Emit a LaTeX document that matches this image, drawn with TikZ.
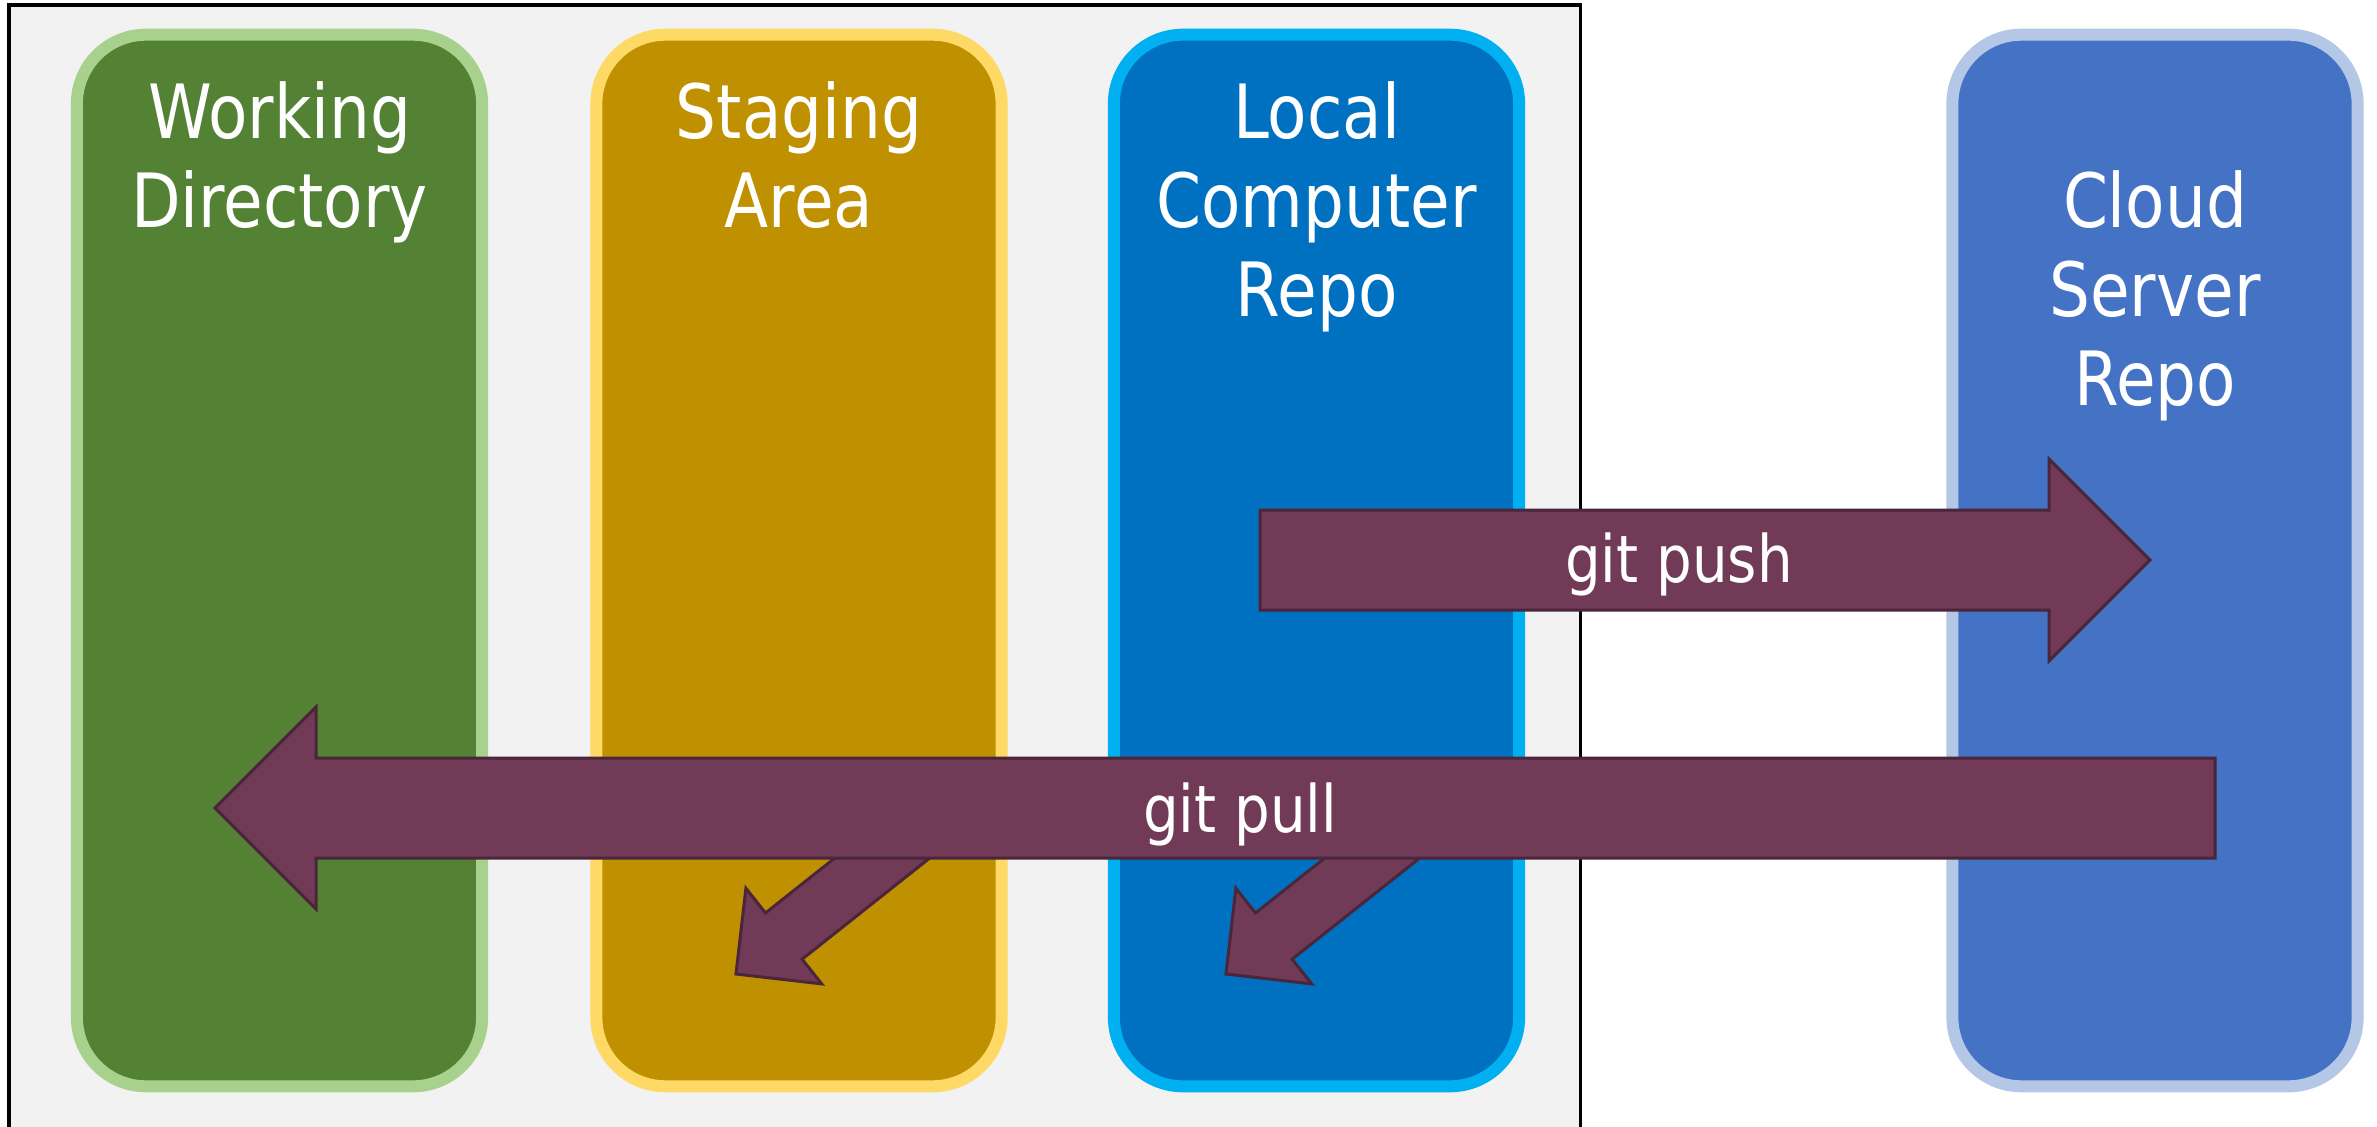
\documentclass[tikz,border=0pt]{standalone}
\usepackage{fontspec}
\setmainfont{DejaVu Sans}[FakeStretch=0.86]
\definecolor{bggray}{HTML}{F2F2F2}
\definecolor{c1b}{HTML}{A9D18E}
\definecolor{c1f}{HTML}{548235}
\definecolor{c2b}{HTML}{FFD966}
\definecolor{c2f}{HTML}{BF9000}
\definecolor{c3b}{HTML}{00B0F0}
\definecolor{c3f}{HTML}{0070C0}
\definecolor{c4b}{HTML}{B4C7E7}
\definecolor{c4f}{HTML}{4472C4}
\definecolor{arrowfill}{HTML}{713B57}
\definecolor{arrowline}{HTML}{4B2539}
\begin{document}
\begin{tikzpicture}[x=0.01cm,y=-0.01cm,
  col/.style={rectangle,rounded corners=0.69cm,line width=0.12cm,minimum width=4.05cm,minimum height=10.51cm,inner sep=0pt},
  ttl/.style={anchor=base,text=white,font=\fontsize{21.3pt}{25pt}\selectfont,inner sep=0pt},
  albl/.style={anchor=base,text=white,font=\fontsize{18.6pt}{22pt}\selectfont,inner sep=0pt},
  barrow/.style={fill=arrowfill,draw=arrowline,line width=0.03cm,line join=miter}]
\useasboundingbox (0,0) rectangle (2377,1127);
\clip (0,0) rectangle (2377,1127);
\fill[white] (0,0) rectangle (2377,1127);
\draw[fill=bggray,line width=0.03cm] (9,5) rectangle (1580,1200);
% columns
\node[col,draw=c1b,fill=c1f] (wd) at (279.5,560.5) {};
\node[col,draw=c2b,fill=c2f] (sa) at (799,560.5) {};
\node[col,draw=c3b,fill=c3f] (lr) at (1316.5,560.5) {};
\node[col,draw=c4b,fill=c4f] (cr) at (2155,560.5) {};
% titles
\node[ttl] (wd1) at (279.5,138) {Working};
\node[ttl] (wd2) at (279.5,227) {Directory};
\node[ttl] (sa1) at (799,138) {Staging};
\node[ttl] (sa2) at (799,227) {Area};
\node[ttl] (lr1) at (1316.5,138) {Local};
\node[ttl] (lr2) at (1316.5,227) {Computer};
\node[ttl] (lr3) at (1316.5,316) {Repo};
\node[ttl] (cr1) at (2155,227) {Cloud};
\node[ttl] (cr2) at (2155,316) {Server};
\node[ttl] (cr3) at (2155,405) {Repo};
% small hidden arrows
\draw[barrow] (736,974) -- (821.7,983.9) -- (802.1,959.2) -- (973.6,823.2) -- (937.0,777.0) -- (765.5,913.0) -- (745.9,888.3) -- cycle;
\draw[barrow] (1226,974) -- (1311.7,983.9) -- (1292.1,959.2) -- (1463.6,823.2) -- (1427.0,777.0) -- (1255.5,913.0) -- (1235.9,888.3) -- cycle;
% push arrow
\draw[barrow] (1260,510) -- (2049,510) -- (2049,459) -- (2150,560) -- (2049,661) -- (2049,610) -- (1260,610) -- cycle;
% pull arrow
\draw[barrow] (2215,758) -- (316,758) -- (316,707) -- (215,808) -- (316,909) -- (316,858) -- (2215,858) -- cycle;
\node[albl] (push) at (1679,582) {git push};
\node[albl] (pull) at (1240,832) {git pull};
\end{tikzpicture}
\end{document}
